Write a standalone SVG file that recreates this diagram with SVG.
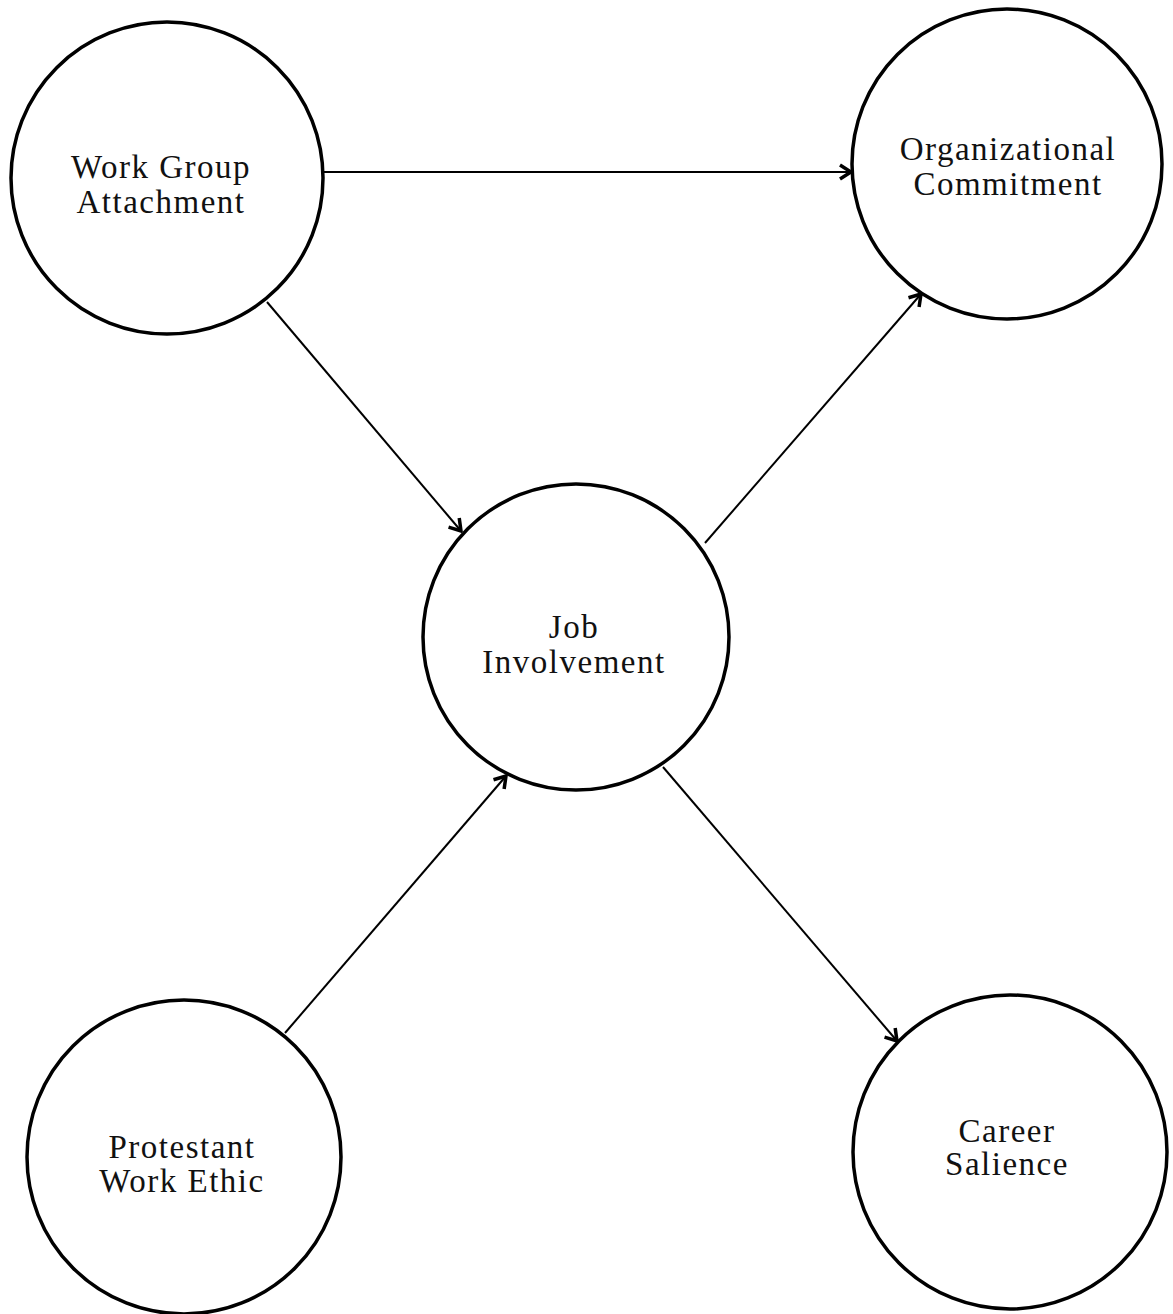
<svg xmlns="http://www.w3.org/2000/svg" width="1173" height="1314" viewBox="0 0 1173 1314">
<style>
.node circle{fill:none;stroke:#000;stroke-width:3.5}
.node text{font-family:"Liberation Serif","Times New Roman",serif;font-size:33px;letter-spacing:1.5px;fill:#111;text-anchor:middle}
.conn line{stroke:#000;stroke-width:2;marker-end:url(#arr)}
</style>
<defs>
<marker id="arr" markerUnits="userSpaceOnUse" viewBox="-14 -10 16 20" refX="0" refY="0" markerWidth="16" markerHeight="20" orient="auto">
<path d="M-11,-7 L0,0 L-11,7" fill="none" stroke="#000" stroke-width="3.5" stroke-linejoin="miter"/>
</marker>
</defs>
<rect width="1173" height="1314" fill="#fff"/>
<g id="connectors" class="conn">
<line x1="323" y1="172" x2="851" y2="172"/>
<line x1="267" y1="302" x2="461" y2="531"/>
<line x1="705" y1="543" x2="921" y2="294"/>
<line x1="285" y1="1033" x2="506" y2="776"/>
<line x1="663" y1="767" x2="897" y2="1041"/>
</g>
<g id="work-group-attachment" class="node">
<circle cx="167" cy="178" r="156"/>
<text x="161" y="178">Work Group</text>
<text x="161" y="213">Attachment</text>
</g>
<g id="organizational-commitment" class="node">
<circle cx="1007" cy="164" r="155"/>
<text x="1008" y="160">Organizational</text>
<text x="1008" y="195">Commitment</text>
</g>
<g id="job-involvement" class="node">
<circle cx="576" cy="637" r="153"/>
<text x="574" y="638">Job</text>
<text x="574" y="673">Involvement</text>
</g>
<g id="protestant-work-ethic" class="node">
<circle cx="184" cy="1157" r="157"/>
<text x="182" y="1158">Protestant</text>
<text x="182" y="1192">Work Ethic</text>
</g>
<g id="career-salience" class="node">
<circle cx="1010" cy="1152" r="157"/>
<text x="1007" y="1142">Career</text>
<text x="1007" y="1175">Salience</text>
</g>
</svg>
